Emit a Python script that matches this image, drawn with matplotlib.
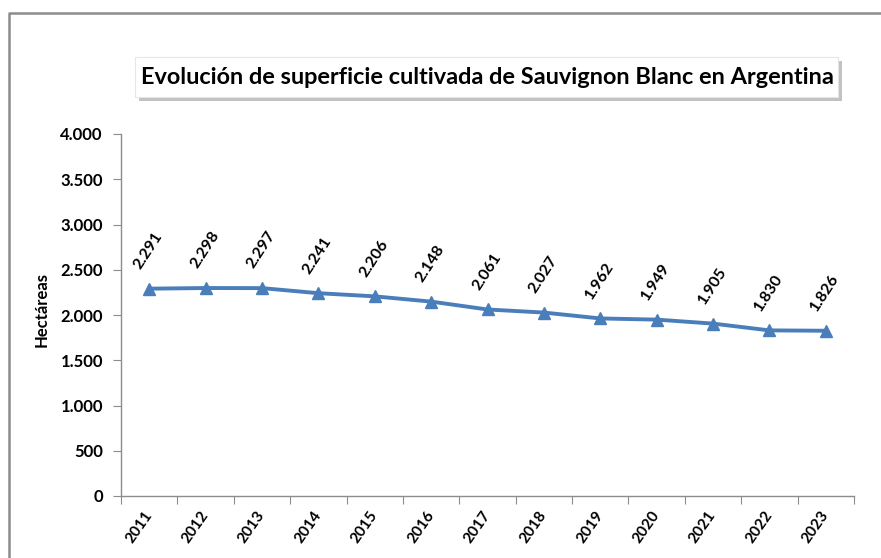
import matplotlib.pyplot as plt
from matplotlib.patches import Rectangle
from matplotlib.ticker import FuncFormatter, MultipleLocator
from matplotlib.transforms import ScaledTranslation

plt.rcParams['font.family'] = ['Lato', 'DejaVu Sans']

# --- data ---
years = [2011, 2012, 2013, 2014, 2015, 2016, 2017, 2018, 2019, 2020, 2021, 2022, 2023]
hectareas = [2291, 2298, 2297, 2241, 2206, 2148, 2061, 2027, 1962, 1949, 1905, 1830, 1826]
title = "Evolución de superficie cultivada de Sauvignon Blanc en Argentina"

fig = plt.figure(figsize=(8.81, 5.58), dpi=100)

# outer frame (top and left visible)
frame = fig.add_axes([0, 0, 1, 1])
frame.set_xlim(0, 881)
frame.set_ylim(558, 0)
frame.axis('off')
frame.plot([8.5, 8.5, 881], [558, 12.5, 12.5], color='#8c8c8c', lw=1.8)

# title box with shadow
frame.add_patch(Rectangle((139, 61), 703, 40, facecolor='#9a9a9a', edgecolor='none', alpha=0.6))
frame.add_patch(Rectangle((135, 57), 703, 40, facecolor='white', edgecolor='#e6e6e6', lw=0.8))
frame.text(487, 78, title, ha='center', va='center', fontsize=16.9,
           fontweight='bold', color='black')

# main axes: x 121..854 px, y 134..496 px
ax = fig.add_axes([121 / 881, 1 - 496 / 558, (854 - 121) / 881, (496 - 134) / 558])
x = list(range(len(years)))
ax.plot(x, hectareas, color='#4a7ebb', lw=2.8, marker='^', markersize=8, zorder=3)

for xi, v in zip(x, hectareas):
    lab = f"{v / 1000:.3f}"
    ax.annotate(lab, (xi, v), xytext=(-6, 17), textcoords='offset pixels',
                rotation=57, ha='left', va='bottom', rotation_mode='anchor',
                fontsize=11.5, fontweight='bold')

ax.set_xlim(-0.5, len(years) - 0.5)
ax.set_ylim(0, 4000)
ax.yaxis.set_major_locator(MultipleLocator(500))
ax.yaxis.set_major_formatter(FuncFormatter(lambda v, p: f"{int(v):,}".replace(',', '.')))
ax.set_xticks([i - 0.5 for i in range(len(years) + 1)], minor=False)
ax.set_xticklabels([])
ax.set_xticks(x, minor=True)
ax.set_xticklabels([str(y) for y in years], minor=True, rotation=55,
                   ha='right', va='center', rotation_mode='anchor', fontsize=11, fontweight='bold')
shift = ScaledTranslation(7 / 100, 0, fig.dpi_scale_trans)
for lab in ax.get_xticklabels(minor=True):
    lab.set_transform(lab.get_transform() + shift)
ax.tick_params(axis='x', which='minor', length=0, pad=12)
ax.tick_params(axis='x', which='major', length=6, color='#8c8c8c', direction='out')
ax.tick_params(axis='y', length=6, color='#8c8c8c', labelsize=12, pad=7)
for lab in ax.get_yticklabels():
    lab.set_fontweight('bold')

for s in ['top', 'right']:
    ax.spines[s].set_visible(False)
for s in ['left', 'bottom']:
    ax.spines[s].set_color('#8c8c8c')
    ax.spines[s].set_linewidth(1)

ax.set_ylabel('Hectáreas', fontsize=12, fontweight='bold')
ax.yaxis.set_label_coords(-0.098, 0.515)

fig.savefig('out.png', dpi=100)
